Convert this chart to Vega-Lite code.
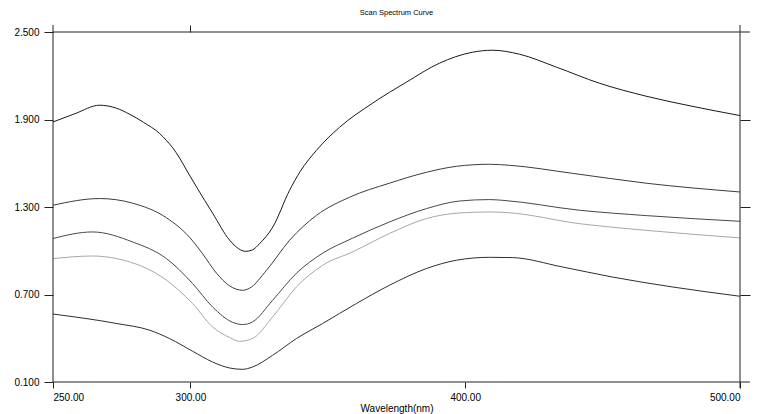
{
  "$schema": "https://vega.github.io/schema/vega-lite/v6.json",
  "autosize": {"type": "none"},
  "padding": {"left": 53, "top": 32, "right": 18, "bottom": 32},
  "width": 687,
  "height": 350,
  "background": "white",
  "config": {
    "view": {"stroke": null},
    "font": "Liberation Sans",
    "axis": {"labelFont": "Liberation Sans", "titleFont": "Liberation Sans", "labelColor": "#000", "titleColor": "#000", "grid": false, "domain": false, "tickColor": "#222", "labelFontSize": 10, "titleFontSize": 10, "titleFontWeight": "normal"}
  },
  "title": {"text": "Scan Spectrum Curve", "fontSize": 7.5, "fontWeight": "normal", "font": "Liberation Sans", "color": "#000", "anchor": "middle", "offset": 8},
  "datasets": {
    "spectra": [
      {"s": "A", "w": 250, "v": 1.883}, {"s": "A", "w": 258, "v": 1.940}, {"s": "A", "w": 267, "v": 1.998}, {"s": "A", "w": 273, "v": 1.978}, {"s": "A", "w": 278, "v": 1.935}, {"s": "A", "w": 283, "v": 1.880}, {"s": "A", "w": 288.8, "v": 1.804}, {"s": "A", "w": 291.2, "v": 1.758}, {"s": "A", "w": 293.6, "v": 1.705}, {"s": "A", "w": 296.1, "v": 1.635}, {"s": "A", "w": 299, "v": 1.540}, {"s": "A", "w": 302.3, "v": 1.435}, {"s": "A", "w": 308.1, "v": 1.257}, {"s": "A", "w": 314.3, "v": 1.072}, {"s": "A", "w": 316.7, "v": 1.026}, {"s": "A", "w": 320, "v": 0.996}, {"s": "A", "w": 322.5, "v": 1.005}, {"s": "A", "w": 325.2, "v": 1.049}, {"s": "A", "w": 330, "v": 1.163}, {"s": "A", "w": 336.1, "v": 1.415}, {"s": "A", "w": 340, "v": 1.545}, {"s": "A", "w": 345.9, "v": 1.689}, {"s": "A", "w": 354.3, "v": 1.847}, {"s": "A", "w": 366.3, "v": 2.012}, {"s": "A", "w": 378.6, "v": 2.156}, {"s": "A", "w": 390.6, "v": 2.286}, {"s": "A", "w": 402.6, "v": 2.361}, {"s": "A", "w": 409.9, "v": 2.375}, {"s": "A", "w": 419.7, "v": 2.348}, {"s": "A", "w": 433.2, "v": 2.259}, {"s": "A", "w": 448.8, "v": 2.149}, {"s": "A", "w": 465.8, "v": 2.060}, {"s": "A", "w": 482.5, "v": 1.991}, {"s": "A", "w": 500, "v": 1.927},
      {"s": "B", "w": 250, "v": 1.312}, {"s": "B", "w": 267, "v": 1.358}, {"s": "B", "w": 279, "v": 1.326}, {"s": "B", "w": 291.3, "v": 1.226}, {"s": "B", "w": 299.7, "v": 1.092}, {"s": "B", "w": 304.3, "v": 0.983}, {"s": "B", "w": 309.5, "v": 0.846}, {"s": "B", "w": 314.2, "v": 0.760}, {"s": "B", "w": 319, "v": 0.729}, {"s": "B", "w": 321.5, "v": 0.743}, {"s": "B", "w": 327.7, "v": 0.866}, {"s": "B", "w": 336.1, "v": 1.072}, {"s": "B", "w": 345.9, "v": 1.243}, {"s": "B", "w": 357.9, "v": 1.367}, {"s": "B", "w": 372.4, "v": 1.463}, {"s": "B", "w": 385.9, "v": 1.538}, {"s": "B", "w": 396.8, "v": 1.579}, {"s": "B", "w": 408.8, "v": 1.593}, {"s": "B", "w": 416.1, "v": 1.586}, {"s": "B", "w": 439, "v": 1.531}, {"s": "B", "w": 465.9, "v": 1.463}, {"s": "B", "w": 500, "v": 1.403},
      {"s": "C", "w": 250, "v": 1.084}, {"s": "C", "w": 264.4, "v": 1.129}, {"s": "C", "w": 279, "v": 1.060}, {"s": "C", "w": 291.3, "v": 0.946}, {"s": "C", "w": 300.8, "v": 0.775}, {"s": "C", "w": 308.1, "v": 0.614}, {"s": "C", "w": 315.3, "v": 0.510}, {"s": "C", "w": 319, "v": 0.494}, {"s": "C", "w": 322.6, "v": 0.512}, {"s": "C", "w": 329.9, "v": 0.660}, {"s": "C", "w": 338.6, "v": 0.846}, {"s": "C", "w": 348.1, "v": 0.983}, {"s": "C", "w": 359, "v": 1.086}, {"s": "C", "w": 372.4, "v": 1.197}, {"s": "C", "w": 385.9, "v": 1.289}, {"s": "C", "w": 397.9, "v": 1.341}, {"s": "C", "w": 408.8, "v": 1.351}, {"s": "C", "w": 413.5, "v": 1.346}, {"s": "C", "w": 441.5, "v": 1.278}, {"s": "C", "w": 465.9, "v": 1.241}, {"s": "C", "w": 500, "v": 1.202},
      {"s": "D", "w": 250, "v": 0.946}, {"s": "D", "w": 264.4, "v": 0.964}, {"s": "D", "w": 273.2, "v": 0.946}, {"s": "D", "w": 291.3, "v": 0.798}, {"s": "D", "w": 300.8, "v": 0.638}, {"s": "D", "w": 308.1, "v": 0.477}, {"s": "D", "w": 314.3, "v": 0.405}, {"s": "D", "w": 317.9, "v": 0.379}, {"s": "D", "w": 322.6, "v": 0.398}, {"s": "D", "w": 329.9, "v": 0.546}, {"s": "D", "w": 338.6, "v": 0.752}, {"s": "D", "w": 348.1, "v": 0.900}, {"s": "D", "w": 359, "v": 0.992}, {"s": "D", "w": 372.4, "v": 1.118}, {"s": "D", "w": 385.9, "v": 1.221}, {"s": "D", "w": 397.9, "v": 1.259}, {"s": "D", "w": 408.8, "v": 1.266}, {"s": "D", "w": 415, "v": 1.262}, {"s": "D", "w": 441.5, "v": 1.186}, {"s": "D", "w": 465.9, "v": 1.140}, {"s": "D", "w": 500, "v": 1.088},
      {"s": "E", "w": 250, "v": 0.566}, {"s": "E", "w": 273.2, "v": 0.501}, {"s": "E", "w": 285.2, "v": 0.455}, {"s": "E", "w": 292.4, "v": 0.398}, {"s": "E", "w": 300.8, "v": 0.311}, {"s": "E", "w": 308.1, "v": 0.237}, {"s": "E", "w": 314.3, "v": 0.196}, {"s": "E", "w": 319, "v": 0.187}, {"s": "E", "w": 322.6, "v": 0.203}, {"s": "E", "w": 329.9, "v": 0.283}, {"s": "E", "w": 338.6, "v": 0.398}, {"s": "E", "w": 348.1, "v": 0.501}, {"s": "E", "w": 360.4, "v": 0.638}, {"s": "E", "w": 372.4, "v": 0.763}, {"s": "E", "w": 385.9, "v": 0.878}, {"s": "E", "w": 396.8, "v": 0.935}, {"s": "E", "w": 408.8, "v": 0.955}, {"s": "E", "w": 417.2, "v": 0.953}, {"s": "E", "w": 435.3, "v": 0.889}, {"s": "E", "w": 453.5, "v": 0.820}, {"s": "E", "w": 475.3, "v": 0.752}, {"s": "E", "w": 500, "v": 0.688}
    ]
  },
  "layer": [
    {
      "data": {"name": "spectra"},
      "mark": {"type": "line", "interpolate": "monotone", "strokeWidth": 1},
      "encoding": {
        "x": {"field": "w", "type": "quantitative", "scale": {"domain": [250, 500], "nice": false, "zero": false},
          "axis": {"orient": "bottom", "values": [250, 300, 400, 500], "format": ".2f", "tickSize": 6, "labelPadding": 4, "title": "Wavelength(nm)", "titlePadding": 1}},
        "y": {"field": "v", "type": "quantitative", "scale": {"domain": [0.1, 2.5], "nice": false, "zero": false},
          "axis": {"orient": "left", "values": [0.1, 0.7, 1.3, 1.9, 2.5], "format": ".3f", "tickSize": 9, "labelPadding": 5, "title": null}},
        "color": {"field": "s", "type": "nominal", "legend": null,
          "scale": {"domain": ["A", "B", "C", "D", "E"], "range": ["#1a1a1a", "#3c3c3c", "#484848", "#a8a8a8", "#2e2e2e"]}}
      }
    },
    {
      "data": {"values": [{}]},
      "mark": {"type": "rule", "color": "#222", "strokeWidth": 1},
      "encoding": {"x": {"datum": 250, "axis": null}, "x2": {"datum": 503.6}, "y": {"datum": 2.5, "axis": null}}
    },
    {
      "data": {"values": [{}]},
      "mark": {"type": "rule", "color": "#222", "strokeWidth": 1},
      "encoding": {"x": {"datum": 250, "axis": null}, "x2": {"datum": 503.6}, "y": {"datum": 0.1, "axis": null}}
    },
    {
      "data": {"values": [{}]},
      "mark": {"type": "rule", "color": "#222", "strokeWidth": 1},
      "encoding": {"x": {"datum": 250, "axis": null}, "y": {"datum": 0.1, "axis": null}, "y2": {"datum": 2.548}}
    },
    {
      "data": {"values": [{}]},
      "mark": {"type": "rule", "color": "#222", "strokeWidth": 1},
      "encoding": {"x": {"datum": 500, "axis": null}, "y": {"datum": 0.059, "axis": null}, "y2": {"datum": 2.548}}
    },
    {
      "data": {"values": [{}]},
      "mark": {"type": "rule", "strokeOpacity": 0},
      "encoding": {
        "x": {"datum": 300, "axis": {"orient": "top", "values": [300], "labels": false, "tickSize": 7, "title": null}},
        "y": {"datum": 1.3, "axis": {"orient": "right", "values": [0.7, 1.3, 1.9], "labels": false, "tickSize": 10, "title": null}}
      }
    }
  ],
  "resolve": {"axis": {"x": "independent", "y": "independent"}}
}
